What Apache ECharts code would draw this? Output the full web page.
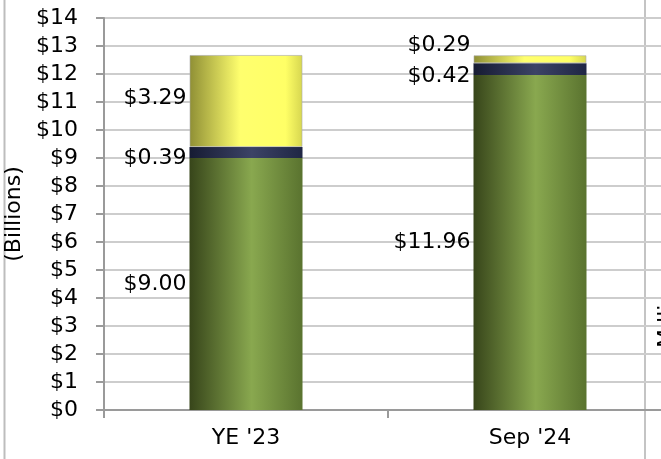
<!DOCTYPE html>
<html>
<head>
<meta charset="utf-8">
<script src="https://cdn.jsdelivr.net/npm/echarts@6/dist/echarts.min.js"></script>
<style>
  html, body { margin: 0; padding: 0; background: #fff; }
  #chart { width: 661px; height: 459px; }
</style>
</head>
<body>
<div id="chart"></div>
<script>
var categories = ["YE '23", "Sep '24"];
var greenVals = [9.00, 11.96];
var navyVals = [0.39, 0.42];
var yellowVals = [3.29, 0.29];

var FONT = 'DejaVu Sans';
var FS = 22;

function grad(stops) {
  return new echarts.graphic.LinearGradient(0, 0, 1, 0, stops);
}
var greenFill = grad([
  {offset: 0, color: '#37451a'},
  {offset: 0.55, color: '#89a84f'},
  {offset: 1, color: '#5a732f'}
]);
var navyFill = grad([
  {offset: 0, color: '#161b33'},
  {offset: 0.55, color: '#3c4366'},
  {offset: 1, color: '#1f2644'}
]);
var yellowFill = grad([
  {offset: 0, color: '#8f8f35'},
  {offset: 0.45, color: '#ffff6e'},
  {offset: 0.85, color: '#ffff66'},
  {offset: 1, color: '#d6d650'}
]);

// label shifts (px) so the small segments' labels don't collide
function items(vals, offsets) {
  return vals.map(function (v, i) {
    return { value: v, label: { offset: offsets[i] } };
  });
}

var labelStyle = {
  show: true,
  position: 'left',
  distance: 3,
  color: '#000',
  fontFamily: FONT,
  fontSize: FS,
  formatter: function (p) { return '$' + p.value.toFixed(2); }
};

var myChart = echarts.init(document.getElementById('chart'));
var option = {
  animation: false,
  grid: { left: 104, right: -11, top: 18, bottom: 49, outerBoundsMode: 'none', containLabel: false },
  xAxis: {
    type: 'category',
    data: categories,
    axisLine: { lineStyle: { color: '#9a9a9a', width: 2 } },
    axisTick: { show: true, length: 8, lineStyle: { color: '#9a9a9a', width: 2 } },
    axisLabel: { color: '#000', fontFamily: FONT, fontSize: FS, margin: 17 }
  },
  yAxis: {
    type: 'value',
    min: 0,
    max: 14,
    interval: 1,
    name: '(Billions)',
    nameLocation: 'middle',
    nameRotate: 90,
    nameGap: 66,
    nameTextStyle: { color: '#000', fontFamily: FONT, fontSize: FS },
    axisLine: { show: true, lineStyle: { color: '#9a9a9a', width: 2 } },
    axisTick: { show: true, length: 8, lineStyle: { color: '#9a9a9a', width: 2 } },
    axisLabel: {
      color: '#000', fontFamily: FONT, fontSize: FS, margin: 26,
      formatter: function (v) { return '$' + v; }
    },
    splitLine: { lineStyle: { color: '#cdcdcd', width: 2 } }
  },
  graphic: [
    { type: 'line', shape: { x1: 4.5, y1: 0, x2: 4.5, y2: 459 }, style: { stroke: '#bdbdbd', lineWidth: 2 } },
    { type: 'line', shape: { x1: 645, y1: 0, x2: 645, y2: 459 }, style: { stroke: '#c4c4c4', lineWidth: 2 } },
    {
      type: 'text', x: 656, y: 348, rotation: Math.PI / 2,
      style: { text: 'Millions', fill: '#000', font: '22px "DejaVu Sans"', textAlign: 'left', textVerticalAlign: 'top' }
    }
  ],
  series: [
    {
      name: 'green', type: 'bar', stack: 'total', barWidth: 113,
      data: items(greenVals, [[0, 0], [0, 0]]),
      itemStyle: { color: greenFill },
      label: labelStyle
    },
    {
      name: 'navy', type: 'bar', stack: 'total',
      data: items(navyVals, [[0, 6], [0, 7]]),
      itemStyle: { color: navyFill },
      label: labelStyle
    },
    {
      name: 'yellow', type: 'bar', stack: 'total',
      data: items(yellowVals, [[0, -3], [0, -14]]),
      itemStyle: { color: yellowFill, borderColor: 'rgba(170,170,170,0.6)', borderWidth: 1 },
      label: labelStyle
    }
  ]
};
myChart.setOption(option);
</script>
</body>
</html>
